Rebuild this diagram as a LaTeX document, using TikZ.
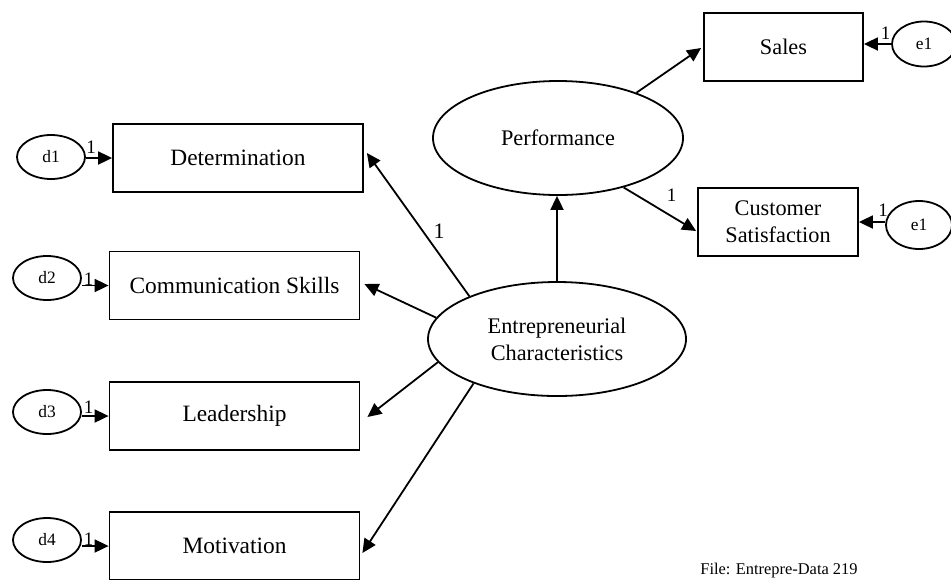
\documentclass[tikz,border=0pt]{standalone}
\usepackage{fontspec}
\setmainfont{Liberation Serif}
\usetikzlibrary{arrows.meta,calc,shapes.geometric}
\begin{document}
\begin{tikzpicture}[x=0.5pt,y=-0.5pt,
  box/.style={draw,line width=0.9pt,minimum width=125pt,minimum height=34pt,inner sep=0pt,font=\fontsize{11.15}{13.5}\selectfont,align=center},
  lbox/.style={box,font=\fontsize{11.7}{13.5}\selectfont},
  lat/.style={draw,ellipse,line width=0.9pt,inner sep=0pt,font=\fontsize{11.15}{13.5}\selectfont,align=center},
  err/.style={draw,ellipse,line width=0.9pt,minimum width=34pt,minimum height=22pt,inner sep=0pt,font=\fontsize{8.7}{10}\selectfont},
  arr/.style={line width=0.9pt,-{Triangle[length=7pt,width=6.5pt]}},
  one/.style={inner sep=0pt,font=\fontsize{9.5}{10}\selectfont},
  bigone/.style={inner sep=0pt,font=\fontsize{11}{12}\selectfont},
]
\useasboundingbox (0,0) rectangle (951,579);

% latent variables
\node[lat,minimum width=125pt,minimum height=57pt] (Perf) at (558,138) {Performance};
\node[lat,minimum width=129pt,minimum height=57pt] (EC) at (557,339) {Entrepreneurial\\Characteristics};

% observed variables
\node[lbox] (Det)  at (238,158)   {Determination};
\node[lbox] (Comm) at (234.5,285.5) {Communication Skills};
\node[lbox] (Lead) at (234.5,416) {Leadership};
\node[lbox] (Mot)  at (234.5,546) {Motivation};
\node[box,minimum width=79.5pt] (Sales) at (783.5,47) {Sales};
\node[box,minimum width=80pt] (CS) at (778,222) {Customer\\Satisfaction};

% error terms
\node[err] (d1) at (51,157) {d1};
\node[err] (d2) at (47,278) {d2};
\node[err] (d3) at (47,412) {d3};
\node[err] (d4) at (47,540) {d4};
\node[err,minimum width=32pt,minimum height=22.5pt] (e1a) at (924,44) {e1};
\node[err,minimum width=33pt,minimum height=24pt] (e1b) at (919,225) {e1};

% structural paths
\draw[arr] (EC.north) -- (EC.north |- Perf.south);
\draw[arr] (Perf.30.9) -- ($(Sales.west)+(-2,1)$);
\draw[arr] (Perf.323) -- ($(CS.west)+(-1,9)$);
\draw[arr] (EC.154.5) -- ($(Det.east)+(3,-5)$);
\draw[arr] (EC.170.1) -- ($(Comm.east)+(4,-1.5)$);
\draw[arr] (EC.191.4) -- ($(Lead.east)+(7,1)$);
\draw[arr] (EC.208.2) -- ($(Mot.east)+(2,7)$);

% error paths
\draw[arr] (d1.east |- Det.west) -- (Det.west);
\draw[arr] (d2.east |- Comm.west) -- (Comm.west);
\draw[arr] (d3.east |- Lead.west) -- (Lead.west);
\draw[arr] (d4.east |- Mot.west) -- (Mot.west);
\draw[arr] (e1a.west) -- (e1a.west -| Sales.east);
\draw[arr] (e1b.west |- CS.east) -- (CS.east);

% labels
\node[bigone] (l0) at (439,231) {1};
\node[one] (l1) at (671.5,195) {1};
\node[one] (l2) at (885.5,33) {1};
\node[one] (l3) at (883,210) {1};
\node[one] (l4) at (91,147.5) {1};
\node[one] (l5) at (88.5,279) {1};
\node[one] (l6) at (88.5,407.5) {1};
\node[one] (l7) at (88.5,539) {1};

\node[anchor=base west,inner sep=0pt,font=\fontsize{8.2}{10}\selectfont] (file) at (700,574) {File: Entrepre-Data 219};
\end{tikzpicture}
\end{document}
